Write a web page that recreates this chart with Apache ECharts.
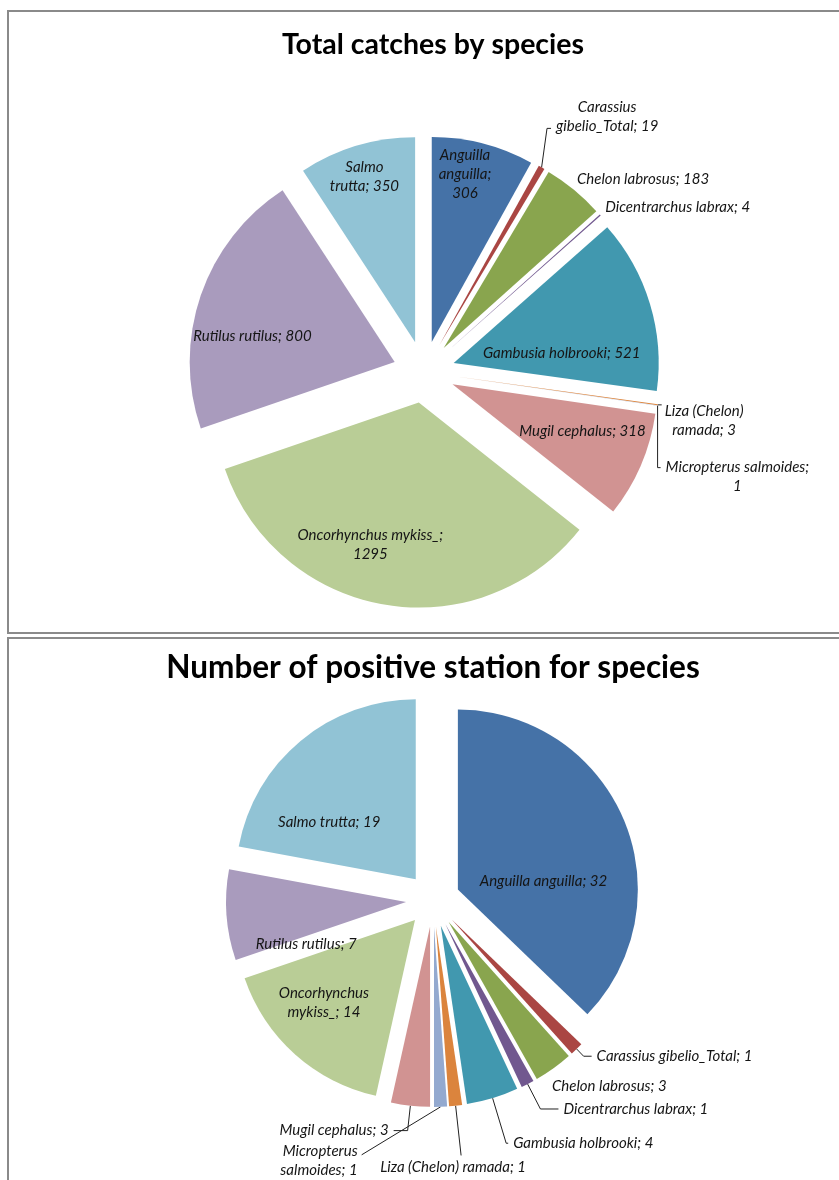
<!DOCTYPE html>
<html><head><meta charset="utf-8">
<script src="https://cdn.jsdelivr.net/npm/echarts@6/dist/echarts.min.js"></script>
<style>html,body{margin:0;padding:0;background:#fff}#c{width:839px;height:1180px}</style>
</head><body><div id="c"></div>
<script>
// ---- data ----
const species = ['Anguilla anguilla','Carassius gibelio_Total','Chelon labrosus','Dicentrarchus labrax','Gambusia holbrooki','Liza (Chelon) ramada','Micropterus salmoides','Mugil cephalus','Oncorhynchus mykiss_','Rutilus rutilus','Salmo trutta'];
const totalCatches = [306,19,183,4,521,3,1,318,1295,800,350];
const positiveStations = [32,1,3,1,4,1,1,3,14,7,19];
const chartTitles = ['Total catches by species','Number of positive station for species'];

// ---- styles (label placement hints, no data) ----
const colors = ['#4572A7','#AA4643','#89A54E','#71588F','#4198AF','#DB843D','#93A9CF','#D19392','#B9CD96','#A99BBD','#91C3D5'];
const topLabelStyle = {
  'Anguilla anguilla': {pos:'inside', breaks:[0,1], labelShift:[-6,-16]},
  'Carassius gibelio_Total': {pos:'outside', breaks:[0], len:45, len2:4, centerLines:true, shift:[-17,0], labelShift:[0,-12]},
  'Chelon labrosus': {pos:'outside', len:0, len2:0, noLine:true, labelShift:[-2,-11]},
  'Dicentrarchus labrax': {pos:'outside', len:0, len2:0, noLine:true, labelShift:[0,-8]},
  'Gambusia holbrooki': {pos:'inside', labelShift:[-42,35]},
  'Liza (Chelon) ramada': {pos:'outside', breaks:[1], len:0, len2:4, centerLines:true, labelShift:[-2,16]},
  'Micropterus salmoides': {pos:'outside', breaks:[1], len:0, len2:3, centerLines:true, shift:[0,62], labelShift:[0,9]},
  'Mugil cephalus': {pos:'inside', labelShift:[-14,-15]},
  'Oncorhynchus mykiss_': {pos:'inside', breaks:[1], labelShift:[-22,-12]},
  'Rutilus rutilus': {pos:'inside', labelShift:[6,25]},
  'Salmo trutta': {pos:'inside', breaks:[0], labelShift:[-6,-15]}
};
const bottomLabelStyle = {
  'Anguilla anguilla': {pos:'inside', labelShift:[0,28]},
  'Carassius gibelio_Total': {pos:'outside', len:10, len2:8},
  'Chelon labrosus': {pos:'outside', len:18, len2:6, noLine:true, labelShift:[-23,3]},
  'Dicentrarchus labrax': {pos:'outside', len:28, len2:18},
  'Gambusia holbrooki': {pos:'outside', len:47, len2:2},
  'Liza (Chelon) ramada': {pos:'outside', len:50, len2:0, anchorLine:true, align:'center', valign:'top', labelShift:[-8,2]},
  'Micropterus salmoides': {pos:'outside', breaks:[0], len:30, len2:0, shift:[-80,18], anchorLine:true, align:'right', labelShift:[-4,6]},
  'Mugil cephalus': {pos:'outside', len:25, len2:14},
  'Oncorhynchus mykiss_': {pos:'inside', breaks:[0], labelShift:[-29,13]},
  'Rutilus rutilus': {pos:'inside', labelShift:[-7,35]},
  'Salmo trutta': {pos:'inside', labelShift:[-27,14]}
};
const labelFont = {fontFamily:'Lato', fontStyle:'italic', fontSize:15, color:'#151515', lineHeight:19};

function labelText(name, value, breaks) {
  const words = (name + '; ' + value).split(' ');
  let out = '';
  words.forEach((w,i)=>{
    out += w;
    if (i < words.length-1) out += (breaks && breaks.indexOf(i) >= 0) ? '\n' : ' ';
  });
  return out;
}

function anchorOf(r, align, valign) {
  return [
    r.x + (align==='center' ? r.width/2 : align==='right' ? r.width : 0),
    r.y + (valign==='middle' ? r.height/2 : valign==='bottom' ? r.height : 0)
  ];
}

function makeLabelLayout(labelStyle) {
  return function(p){
    const s = labelStyle[species[p.dataIndex]] || {};
    const r = p.labelRect;
    if (!r) return {};
    const align = p.align || 'center';
    const valign = p.verticalAlign || 'middle';
    const orig = anchorOf(r, align, valign);
    let pts = p.labelLinePoints ? p.labelLinePoints.map(q=>[q[0],q[1]]) : null;
    if (pts && s.shift) {
      for (let k=1;k<pts.length;k++){ pts[k][0]+=s.shift[0]; pts[k][1]+=s.shift[1]; }
    }
    const newAlign = s.align || (s.centerLines ? 'center' : align);
    const newValign = s.valign || valign;
    let a;
    if (s.anchorLine && pts) {
      const last = pts[pts.length-1];
      a = [last[0], last[1]];
    } else {
      a = anchorOf(r, newAlign, newValign);
      if (s.shift) { a[0] += s.shift[0]; a[1] += s.shift[1]; }
    }
    if (s.labelShift) { a[0] += s.labelShift[0]; a[1] += s.labelShift[1]; }
    const out = {dx:a[0]-orig[0], dy:a[1]-orig[1], align:newAlign, verticalAlign:newValign};
    if (pts) out.labelLinePoints = pts;
    return out;
  };
}

function buildPie(values, labelStyle, center, R, offset, innerRatio) {
  const visible = species.map((n,i)=>({name:n, value:values[i], selected:true, itemStyle:{color:colors[i]}}));
  const carrier = species.map((n,i)=>{
    const s = labelStyle[n];
    return {
      name:n, value:values[i], selected:true,
      label:{show:true, position:s.pos, formatter:labelText(n, values[i], s.breaks)},
      labelLine:{show: s.pos==='outside', length:s.len, length2:s.len2,
                 lineStyle:{opacity: s.noLine ? 0 : 1}}
    };
  });
  return [
    {type:'pie', center:center, radius:[0,R], startAngle:90, clockwise:true,
     selectedMode:'multiple', selectedOffset:offset, silent:true, animation:false,
     label:{show:false}, labelLine:{show:false}, emphasis:{disabled:true},
     itemStyle:{borderWidth:0}, data:visible},
    {type:'pie', center:center, radius:[R*innerRatio,R], startAngle:90, clockwise:true,
     selectedMode:'multiple', selectedOffset:offset, silent:true, animation:false,
     itemStyle:{color:'rgba(0,0,0,0)'}, emphasis:{disabled:true},
     avoidLabelOverlap:false,
     label:Object.assign({}, labelFont),
     labelLine:{lineStyle:{color:'#222', width:1}},
     labelLayout:makeLabelLayout(labelStyle),
     data:carrier}
  ];
}

const chart = echarts.init(document.getElementById('c'), null, {renderer:'canvas'});
chart.setOption({
  backgroundColor:'#fff',
  animation:false,
  title:[
    {text:chartTitles[0], left:428, top:25, textAlign:'center',
     textStyle:{fontFamily:'Lato', fontWeight:'bold', fontSize:28.5, color:'#000'}},
    {text:chartTitles[1], left:428, top:647, textAlign:'center',
     textStyle:{fontFamily:'Lato', fontWeight:'bold', fontSize:31.5, color:'#000'}}
  ],
  graphic:[
    {type:'rect', shape:{x:8,y:11,width:840,height:622}, style:{fill:'none', stroke:'#8a8a8a', lineWidth:2}, silent:true},
    {type:'rect', shape:{x:8,y:638,width:840,height:560}, style:{fill:'none', stroke:'#8a8a8a', lineWidth:2}, silent:true}
  ],
  series:[].concat(
    buildPie(totalCatches, topLabelStyle, [424,372], 205, 31, 0.5),
    buildPie(positiveStations, bottomLabelStyle, [433,900], 180, 27, 0)
  )
});
</script>
</body></html>
